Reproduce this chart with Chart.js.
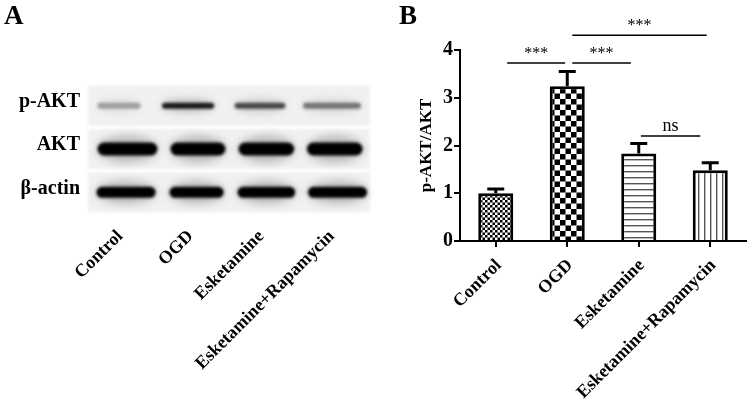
<!DOCTYPE html>
<html>
<head>
<meta charset="utf-8">
<script src="https://cdn.jsdelivr.net/npm/chart.js@4/dist/chart.umd.min.js"></script>
<style>
    html, body { margin: 0; padding: 0; background: #fff; }
    canvas { position: absolute; top: 0; }
    #blotChart { left: 0; }
    #barChart { left: 395px; }
</style>
</head>
<body>
<canvas id="blotChart" width="395" height="403"></canvas>
<canvas id="barChart" width="355" height="403"></canvas>
<script>
// Shared categories
const groups = ['Control', 'OGD', 'Esketamine', 'Esketamine+Rapamycin'];

// Panel A: blot rows and how dark / wide each band reads (per group)
const proteins = ['p-AKT', 'AKT', 'β-actin'];
const pAktDarkness = [0.38, 0.9, 0.72, 0.55];
const aktDarkness = [1, 1, 1, 1];
const actinDarkness = [1, 1, 1, 1];
const pAktBandWidth = [0.61, 0.74, 0.72, 0.82];
const aktBandWidth = [0.85, 0.78, 0.79, 0.79];
const actinBandWidth = [0.84, 0.77, 0.82, 0.84];
// how far each band sits from its lane centre, in lanes
const pAktBandShift = [-0.06, -0.08, -0.06, -0.04];
const aktBandShift = [0.06, 0.06, 0.03, 0];
const actinBandShift = [0.04, 0.04, 0.03, 0.04];

// Panel B: ratio values
const yTicks = [0, 1, 2, 3, 4];
const ratioValues = [1.0, 3.24, 1.83, 1.48];
const ratioErrors = [0.09, 0.31, 0.21, 0.16];

// Significance lines: [from group, to group, level on y axis, label]
const sigLines = [
    [0.16, 0.97, 3.73, '***'],
    [1.07, 1.89, 3.73, '***'],
    [1.07, 2.95, 4.31, '***'],
    [2.03, 2.86, 2.2, 'ns']
];

const FONT = '"Liberation Serif", serif';

// Fill patterns for the bars
function makePattern(size, paint) {
    const c = document.createElement('canvas');
    c.width = size;
    c.height = size;
    const p = c.getContext('2d');
    p.fillStyle = '#fff';
    p.fillRect(0, 0, size, size);
    p.fillStyle = '#000';
    paint(p, size);
    return p.createPattern(c, 'repeat');
}

function checker(p, s) {
    p.fillRect(0, 0, s / 2, s / 2);
    p.fillRect(s / 2, s / 2, s / 2, s / 2);
}

const ctxB = document.getElementById('barChart').getContext('2d');
const barFills = [
    makePattern(5, checker),
    makePattern(11, checker),
    makePattern(6, (p, s) => { p.fillStyle = '#555'; p.fillRect(0, 3, s, 1.4); }),
    makePattern(6, (p, s) => { p.fillStyle = '#555'; p.fillRect(3, 0, 1.4, s); })
];

// Error bars (upper only) and significance lines
const errorBarPlugin = {
    id: 'errorBars',
    afterDatasetsDraw(chart) {
        const { ctx, scales: { x, y } } = chart;
        ctx.save();
        ctx.strokeStyle = '#000';
        ctx.lineWidth = 3;
        ratioValues.forEach((v, i) => {
            const px = x.getPixelForValue(i);
            const top = y.getPixelForValue(v + ratioErrors[i]);
            ctx.beginPath();
            ctx.moveTo(px, y.getPixelForValue(v));
            ctx.lineTo(px, top);
            ctx.moveTo(px - 8.5, top);
            ctx.lineTo(px + 8.5, top);
            ctx.stroke();
        });
        ctx.restore();
    },
    afterDraw(chart) {
        const { ctx, scales: { x, y } } = chart;
        ctx.save();
        ctx.strokeStyle = '#000';
        ctx.fillStyle = '#000';
        ctx.lineWidth = 1.5;
        ctx.textAlign = 'center';
        sigLines.forEach(([from, to, level, label]) => {
            const x1 = x.getPixelForValue(from);
            const x2 = x.getPixelForValue(to);
            const py = y.getPixelForValue(level);
            ctx.beginPath();
            ctx.moveTo(x1, py);
            ctx.lineTo(x2, py);
            ctx.stroke();
            if (label === 'ns') {
                ctx.font = '18px ' + FONT;
                ctx.textBaseline = 'bottom';
                ctx.fillText(label, (x1 + x2) / 2, py - 1);
            } else {
                ctx.font = '16px ' + FONT;
                ctx.textBaseline = 'middle';
                ctx.fillText(label, (x1 + x2) / 2, py - 9);
            }
        });
        ctx.font = 'bold 27px ' + FONT;
        ctx.textAlign = 'left';
        ctx.textBaseline = 'alphabetic';
        ctx.fillText('B', 4, 24);
        ctx.restore();
    }
};

new Chart(ctxB, {
    type: 'bar',
    data: {
        labels: groups,
        datasets: [{
            data: ratioValues,
            backgroundColor: barFills,
            borderColor: '#000',
            borderWidth: 3,
            borderSkipped: 'bottom',
            barPercentage: 0.49,
            categoryPercentage: 1
        }]
    },
    options: {
        responsive: false,
        animation: false,
        layout: { padding: { top: 50, right: 4 } },
        plugins: { legend: { display: false }, tooltip: { enabled: false } },
        scales: {
            x: {
                grid: { offset: false, drawOnChartArea: false, color: '#000', tickLength: 6, lineWidth: 2 },
                border: { color: '#000', width: 2 },
                ticks: {
                    color: '#000',
                    font: { family: FONT, weight: 'bold', size: 18 },
                    minRotation: 45,
                    maxRotation: 45,
                    autoSkip: false,
                    labelOffset: 3,
                    padding: 8
                },
                afterFit(s) { s.height = 162; }
            },
            y: {
                min: 0,
                max: 4,
                afterBuildTicks(s) { s.ticks = yTicks.map(v => ({ value: v })); },
                grid: { drawOnChartArea: false, color: '#000', tickLength: 6, lineWidth: 2 },
                border: { color: '#000', width: 2 },
                ticks: {
                    color: '#000',
                    font: { family: FONT, weight: 'bold', size: 20 },
                    padding: 1
                },
                title: {
                    display: true,
                    text: 'p-AKT/AKT',
                    color: '#000',
                    font: { family: FONT, weight: 'bold', size: 17 },
                    padding: { top: 21, bottom: 0 }
                },
                afterFit(s) { s.width = 65; }
            }
        }
    },
    plugins: [errorBarPlugin]
});

// Panel A: the strips and their bands are painted from the row / group scales
const rowDarkness = [pAktDarkness, aktDarkness, actinDarkness];
const rowWidths = [pAktBandWidth, aktBandWidth, actinBandWidth];
const rowShifts = [pAktBandShift, aktBandShift, actinBandShift];
const rowBandHeights = [6, 13, 11];

const blotPlugin = {
    id: 'blot',
    beforeDatasetsDraw(chart) {
        const { ctx, scales: { x, y } } = chart;
        const area = chart.chartArea;
        ctx.save();
        proteins.forEach((name, r) => {
            const cy = y.getPixelForValue(r);
            const bandH = rowBandHeights[r];
            // strip background
            ctx.filter = 'blur(1.5px)';
            ctx.fillStyle = '#f1f1f1';
            ctx.fillRect(area.left, cy - 20, area.right - area.left, 40);
            groups.forEach((g, i) => {
                const cx = x.getPixelForValue(i + rowShifts[r][i]);
                const w = x.getPixelForValue(rowWidths[r][i]) - x.getPixelForValue(0);
                const shade = Math.round(255 * (1 - rowDarkness[r][i]));
                // soft halo first, then the band itself
                ctx.filter = 'blur(5px)';
                ctx.fillStyle = 'rgba(' + shade + ',' + shade + ',' + shade + ',0.25)';
                ctx.beginPath();
                ctx.ellipse(cx, cy, w / 2, bandH, 0, 0, Math.PI * 2);
                ctx.fill();
                ctx.filter = 'blur(1.5px)';
                ctx.fillStyle = 'rgb(' + shade + ',' + shade + ',' + shade + ')';
                ctx.beginPath();
                ctx.roundRect(cx - w / 2, cy - bandH / 2, w, bandH, bandH / 2);
                ctx.fill();
            });
        });
        ctx.restore();
    },
    afterDraw(chart) {
        const { ctx } = chart;
        ctx.save();
        ctx.fillStyle = '#000';
        ctx.font = 'bold 27px ' + FONT;
        ctx.textAlign = 'left';
        ctx.fillText('A', 4, 24);
        ctx.restore();
    }
};

new Chart(document.getElementById('blotChart').getContext('2d'), {
    type: 'bar',
    data: { labels: groups, datasets: [{ data: [] }] },
    options: {
        responsive: false,
        animation: false,
        layout: { padding: { top: 84, right: 25 } },
        plugins: { legend: { display: false }, tooltip: { enabled: false } },
        scales: {
            x: {
                grid: { display: false },
                border: { display: false },
                ticks: {
                    color: '#000',
                    font: { family: FONT, weight: 'bold', size: 18 },
                    minRotation: 45,
                    maxRotation: 45,
                    autoSkip: false,
                    labelOffset: -3,
                    padding: 4
                },
                afterFit(s) { s.height = 189; }
            },
            y: {
                type: 'category',
                labels: proteins,
                offset: true,
                grid: { display: false },
                border: { display: false },
                ticks: {
                    color: '#000',
                    font: { family: FONT, weight: 'bold', size: 20 },
                    labelOffset: -4,
                    padding: 0
                },
                afterFit(s) { s.width = 88; }
            }
        }
    },
    plugins: [blotPlugin]
});
</script>
</body>
</html>
